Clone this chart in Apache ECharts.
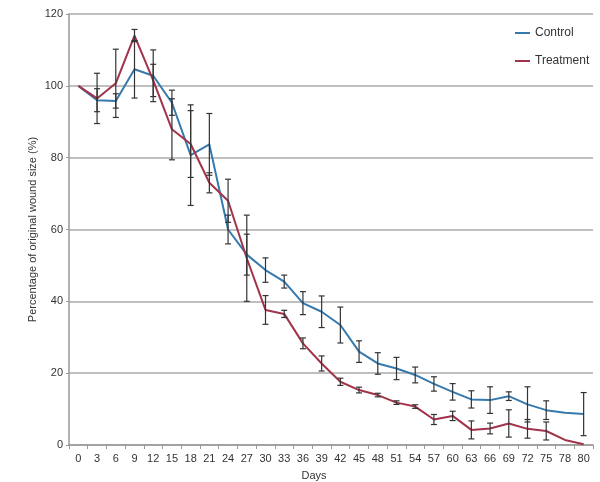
<!DOCTYPE html>
<html>
<head>
<meta charset="utf-8">
<script src="https://cdn.jsdelivr.net/npm/echarts@6/dist/echarts.min.js"></script>
<style>html,body{margin:0;padding:0;background:#fff}#c{width:600px;height:482px}</style>
</head>
<body>
<div id="c"></div>
<script>
var days = ['0','3','6','9','12','15','18','21','24','27','30','33','36','39','42','45','48','51','54','57','60','63','66','69','72','75','78','80'];
var yTicks = [0, 20, 40, 60, 80, 100, 120];
var control = [100,96,95.8,104.6,102.8,95.3,80.7,83.7,60,53,48.7,45.5,39.5,37.1,33.4,26,22.7,21.3,19.5,17,14.8,12.7,12.5,13.6,11.3,9.7,9,8.6];
var controlErr = [null,3.2,2,8,7.2,3.5,14,8.6,4,5.7,3.4,1.8,3.2,4.4,5,3,3,3.1,2.2,2,2.3,2.4,3.7,1.2,4.9,2.6,null,6];
var treatment = [100,96.5,100.7,114,101.5,87.9,83.8,73,68,52,37.6,36.5,28.3,22.7,17.6,15.3,13.9,11.8,10.7,7.1,8.1,4.2,4.6,6,4.5,3.9,1.4,0.2];
var treatmentErr = [null,7,9.5,1.7,4.5,8.5,9.3,2.8,6,12,4,1,1.5,2.1,1,0.8,0.5,0.5,0.5,1.4,1.3,2.5,1.5,3.8,2.6,2.5,null,null];

var blue = '#3579ad';
var red = '#a1334a';
var font = 'Liberation Sans, Arial, sans-serif';

function errData(vals, errs) {
  var out = [];
  for (var i = 0; i < vals.length; i++) {
    if (errs[i] != null) out.push([i, vals[i] - errs[i], vals[i] + errs[i]]);
  }
  return out;
}
function renderErr(params, api) {
  var lo = api.coord([api.value(0), api.value(1)]);
  var hi = api.coord([api.value(0), api.value(2)]);
  var w = 3;
  var st = {stroke: '#333', lineWidth: 1.2};
  return {
    type: 'group',
    children: [
      {type: 'line', shape: {x1: lo[0], y1: lo[1], x2: hi[0], y2: hi[1]}, style: st},
      {type: 'line', shape: {x1: lo[0] - w, y1: lo[1], x2: lo[0] + w, y2: lo[1]}, style: st},
      {type: 'line', shape: {x1: hi[0] - w, y1: hi[1], x2: hi[0] + w, y2: hi[1]}, style: st}
    ]
  };
}

var chart = echarts.init(document.getElementById('c'));
chart.setOption({
  animation: false,
  backgroundColor: '#fff',
  textStyle: {fontFamily: font},
  grid: {left: 69, right: 7, top: 14, bottom: 37, containLabel: false, outerBoundsMode: 'none'},
  legend: {
    data: [
      {name: 'Control', icon: 'path://M0,0H15V2H0Z'},
      {name: 'Treatment', icon: 'path://M0,0H15V2H0Z'}
    ],
    orient: 'vertical',
    left: 515, top: 27,
    padding: 0,
    itemWidth: 15, itemHeight: 2, itemGap: 16,
    textStyle: {fontSize: 12, color: '#333', fontFamily: font}
  },
  xAxis: {
    type: 'category',
    data: days,
    boundaryGap: true,
    name: 'Days',
    nameLocation: 'middle',
    nameGap: 25,
    nameMoveOverlap: false,
    nameTextStyle: {fontSize: 11, color: '#333', padding: [0, 34, 0, 0]},
    axisLine: {lineStyle: {color: '#999', width: 1.5}},
    axisTick: {show: true, length: 4, alignWithLabel: false, lineStyle: {color: '#999'}},
    axisLabel: {fontSize: 11, color: '#333', margin: 8, interval: 0},
    splitLine: {show: false}
  },
  yAxis: {
    type: 'value',
    min: 0, max: 120, interval: 20,
    name: 'Percentage of original wound size (%)',
    nameLocation: 'middle',
    nameGap: 31,
    nameMoveOverlap: false,
    nameTextStyle: {fontSize: 11, color: '#333'},
    axisLine: {show: true, lineStyle: {color: '#999', width: 1.5}},
    axisTick: {show: true, length: 3, lineStyle: {color: '#999'}},
    axisLabel: {fontSize: 11, color: '#333', margin: 6,
      formatter: function (v) { return yTicks.indexOf(v) >= 0 ? String(v) : ''; }},
    splitLine: {show: true, lineStyle: {color: '#aaa', width: 1.5}}
  },
  series: [
    {name: 'Control', type: 'line', data: control, symbol: 'none', showSymbol: false,
      lineStyle: {color: blue, width: 2}, itemStyle: {color: blue}, z: 3},
    {name: 'Treatment', type: 'line', data: treatment, symbol: 'none', showSymbol: false,
      lineStyle: {color: red, width: 2}, itemStyle: {color: red}, z: 3},
    {name: 'ControlErr', type: 'custom', data: errData(control, controlErr), renderItem: renderErr, z: 4,
      encode: {x: 0, y: [1, 2]}},
    {name: 'TreatmentErr', type: 'custom', data: errData(treatment, treatmentErr), renderItem: renderErr, z: 4,
      encode: {x: 0, y: [1, 2]}}
  ]
});
</script>
</body>
</html>
